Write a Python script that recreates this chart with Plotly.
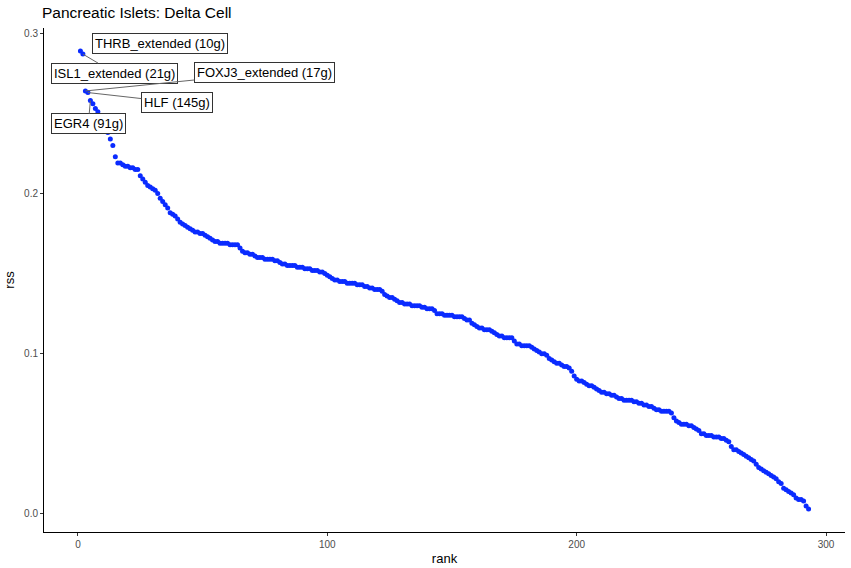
import plotly.graph_objects as go

title_text = "Pancreatic Islets: Delta Cell"
x_title = "rank"
y_title = "rss"

rss = [
    0.289, 0.287, 0.264, 0.263, 0.258, 0.256, 0.253, 0.251, 0.248, 0.245,
    0.241, 0.238, 0.234, 0.230, 0.223, 0.219, 0.219, 0.218, 0.217, 0.217,
    0.216, 0.216, 0.215, 0.215, 0.211, 0.209, 0.207, 0.205, 0.204, 0.203,
    0.202, 0.200, 0.197, 0.195, 0.193, 0.191, 0.188, 0.187, 0.186, 0.184,
    0.182, 0.181, 0.180, 0.179, 0.178, 0.177, 0.176, 0.176, 0.175, 0.175,
    0.174, 0.173, 0.172, 0.171, 0.170, 0.170, 0.169, 0.169, 0.169, 0.169,
    0.168, 0.168, 0.168, 0.168, 0.166, 0.164, 0.163, 0.163, 0.162, 0.162,
    0.161, 0.160, 0.160, 0.160, 0.159, 0.159, 0.159, 0.159, 0.158, 0.158,
    0.157, 0.156, 0.156, 0.155, 0.155, 0.155, 0.155, 0.154, 0.154, 0.154,
    0.153, 0.153, 0.153, 0.152, 0.152, 0.152, 0.151, 0.151, 0.150, 0.149,
    0.148, 0.147, 0.146, 0.146, 0.145, 0.145, 0.145, 0.144, 0.144, 0.144,
    0.144, 0.143, 0.143, 0.143, 0.142, 0.142, 0.141, 0.141, 0.140, 0.140,
    0.140, 0.139, 0.137, 0.136, 0.135, 0.135, 0.134, 0.133, 0.132, 0.132,
    0.131, 0.131, 0.131, 0.130, 0.130, 0.130, 0.130, 0.129, 0.129, 0.128,
    0.128, 0.128, 0.127, 0.125, 0.125, 0.125, 0.124, 0.124, 0.124, 0.124,
    0.123, 0.123, 0.123, 0.123, 0.122, 0.121, 0.121, 0.119, 0.118, 0.117,
    0.116, 0.116, 0.115, 0.115, 0.115, 0.114, 0.113, 0.112, 0.111, 0.111,
    0.110, 0.110, 0.110, 0.110, 0.108, 0.106, 0.106, 0.105, 0.105, 0.105,
    0.105, 0.104, 0.103, 0.102, 0.101, 0.100, 0.100, 0.099, 0.097, 0.096,
    0.095, 0.094, 0.094, 0.093, 0.092, 0.092, 0.091, 0.089, 0.086, 0.084,
    0.083, 0.083, 0.082, 0.081, 0.080, 0.080, 0.079, 0.078, 0.077, 0.076,
    0.076, 0.075, 0.075, 0.074, 0.074, 0.073, 0.072, 0.072, 0.071, 0.071,
    0.071, 0.071, 0.070, 0.070, 0.069, 0.069, 0.068, 0.068, 0.067, 0.067,
    0.066, 0.065, 0.065, 0.064, 0.064, 0.064, 0.064, 0.063, 0.060, 0.058,
    0.057, 0.056, 0.056, 0.056, 0.055, 0.055, 0.054, 0.053, 0.052, 0.050,
    0.050, 0.049, 0.049, 0.049, 0.048, 0.048, 0.048, 0.047, 0.047, 0.046,
    0.045, 0.042, 0.040, 0.040, 0.039, 0.038, 0.037, 0.036, 0.035, 0.034,
    0.033, 0.031, 0.029, 0.028, 0.027, 0.026, 0.025, 0.024, 0.023, 0.022,
    0.020, 0.019, 0.016, 0.015, 0.014, 0.013, 0.012, 0.010, 0.009, 0.009,
    0.008, 0.005, 0.003,
]
rank = list(range(1, len(rss) + 1))

label_ranks = [1, 2, 3, 4, 5]
label_texts = ["THRB_extended (10g)", "ISL1_extended (21g)", "FOXJ3_extended (17g)",
               "HLF (145g)", "EGR4 (91g)"]
# pixel offsets of label centres from their points
label_ax = [80, 32, 179, 89, -2]
label_ay = [-7, 19, -18, 10, 23]
label_arrow = [False, True, True, True, True]

x_ticks = [0, 100, 200, 300]
y_ticks = [0.0, 0.1, 0.2, 0.3]

W, H = 851, 568

fig = go.Figure()
fig.add_trace(go.Scatter(
    x=rank, y=rss, mode="markers",
    marker=dict(color="#0a2bff", size=5, line=dict(width=0)),
    showlegend=False, hoverinfo="x+y",
))

for r, t, ax, ay, arr in zip(label_ranks, label_texts, label_ax, label_ay, label_arrow):
    fig.add_annotation(
        x=r, y=rss[r - 1], text=t, showarrow=True,
        ax=ax, ay=ay, axref="pixel", ayref="pixel",
        arrowhead=0, arrowwidth=1,
        arrowcolor="#666666" if arr else "rgba(0,0,0,0)",
        standoff=0, startstandoff=0,
        bgcolor="white", bordercolor="#333333", borderwidth=1, borderpad=2,
        font=dict(family="Liberation Sans, Arial, sans-serif", size=13, color="black"),
    )

n = len(rss)
xspan = (n - 1)
ymin, ymax = min(rss), max(rss)
yspan = ymax - ymin

fig.update_layout(
    width=W, height=H,
    margin=dict(l=44, r=6, t=28, b=36, autoexpand=False),
    paper_bgcolor="white", plot_bgcolor="white",
    font=dict(family="Liberation Sans, Arial, sans-serif", color="black"),
    title=dict(text=title_text, x=42 / W, xref="container", xanchor="left",
               y=1 - 13 / H, yref="container", yanchor="middle",
               font=dict(size=15.5, color="black")),
    xaxis=dict(
        range=[1 - 0.05 * xspan, n + 0.05 * xspan],
        tickvals=x_ticks, ticktext=[str(v) for v in x_ticks],
        showgrid=False, zeroline=False, showline=True, linecolor="black", linewidth=1,
        ticks="outside", ticklen=3, tickcolor="#333333", tickwidth=1,
        tickfont=dict(size=10, color="#4d4d4d"),
        title=dict(text=x_title, font=dict(size=13, color="black"), standoff=4),
    ),
    yaxis=dict(
        range=[ymin - 0.05 * yspan, ymax + 0.05 * yspan],
        tickvals=y_ticks, ticktext=["%.1f" % v for v in y_ticks],
        showgrid=False, zeroline=False, showline=True, linecolor="black", linewidth=1,
        ticks="outside", ticklen=3, tickcolor="#333333", tickwidth=1,
        tickfont=dict(size=10, color="#4d4d4d"),
        title=dict(text=y_title, font=dict(size=13, color="black"), standoff=6),
    ),
)

fig.write_html(
    "out.html",
    config={"displayModeBar": False},
    post_script="document.body.style.margin='0';document.body.style.overflow='hidden';",
)
